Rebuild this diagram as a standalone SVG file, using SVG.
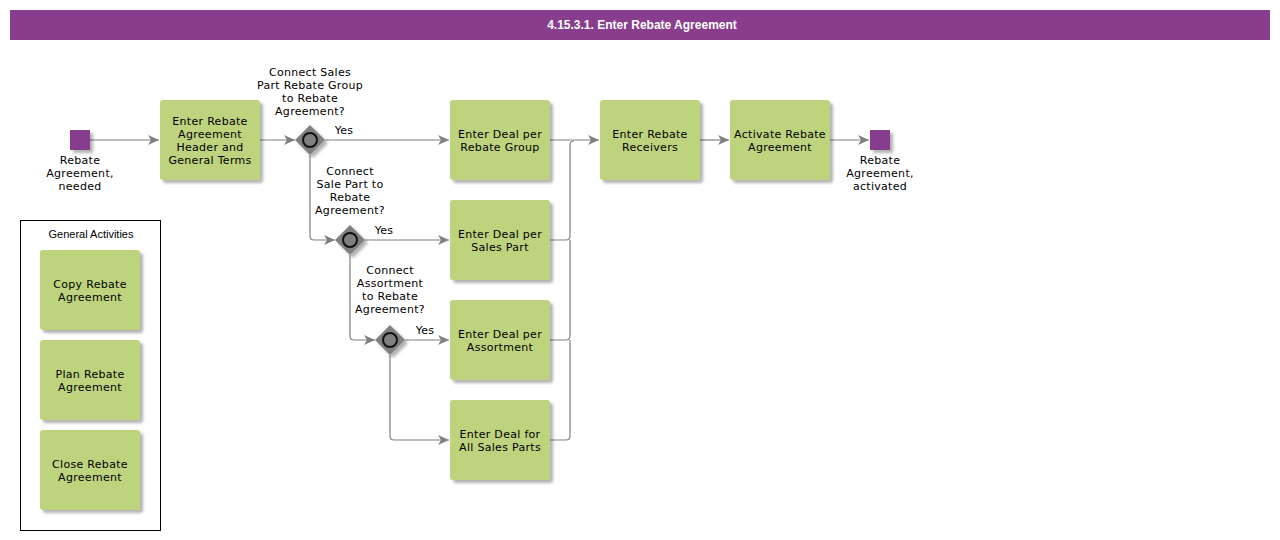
<svg xmlns="http://www.w3.org/2000/svg" width="1280" height="540" viewBox="0 0 1280 540">
<style>
.box{fill:#bed37d;}
.t{font-family:"DejaVu Sans",Verdana,sans-serif;font-size:11px;fill:#000;text-anchor:middle;letter-spacing:0.3px;}
.c{fill:none;stroke:#808080;stroke-width:1.2;}
.ev{fill:#883e8c;}
.gw{fill:#808080;}
.gc{fill:#808080;stroke:#111;stroke-width:2;}
</style>
<defs>
<filter id="sh" x="-20%" y="-20%" width="150%" height="150%">
<feDropShadow dx="3" dy="3" stdDeviation="1.5" flood-color="#000" flood-opacity="0.3"/>
</filter>
<marker id="ar" markerWidth="12" markerHeight="10" refX="11" refY="5" orient="auto" markerUnits="userSpaceOnUse">
<path d="M0,0 L11,5 L0,10 L3,5 Z" fill="#808080"/>
</marker>
</defs>
<rect x="10" y="10" width="1260" height="30" fill="#883e8c"/>
<text x="642" y="29" font-family="Liberation Sans,Arial,sans-serif" font-size="12" font-weight="bold" fill="#fff" text-anchor="middle">4.15.3.1. Enter Rebate Agreement</text>

<g id="connectors">
<path class="c" d="M90,140 H159" marker-end="url(#ar)"/>
<path class="c" d="M260,140 H295" marker-end="url(#ar)"/>
<path class="c" d="M325,140 H449" marker-end="url(#ar)"/>
<path class="c" d="M310,155 V236 Q310,240 314,240 H335" marker-end="url(#ar)"/>
<path class="c" d="M365,240 H449" marker-end="url(#ar)"/>
<path class="c" d="M350,255 V336 Q350,340 354,340 H375" marker-end="url(#ar)"/>
<path class="c" d="M405,340 H449" marker-end="url(#ar)"/>
<path class="c" d="M390,355 V436 Q390,440 394,440 H449" marker-end="url(#ar)"/>
<path class="c" d="M550,140 H599" marker-end="url(#ar)"/>
<path class="c" d="M550,240 H566 Q570,240 570,236 V145 Q570,141 574,141"/>
<path class="c" d="M550,340 H566 Q570,340 570,336 V240"/>
<path class="c" d="M550,440 H566 Q570,440 570,436 V340"/>
<path class="c" d="M700,140 H729" marker-end="url(#ar)"/>
<path class="c" d="M830,140 H869" marker-end="url(#ar)"/>
<text class="t" x="344" y="134">Yes</text>
<text class="t" x="384" y="234">Yes</text>
<text class="t" x="425" y="334">Yes</text>
</g>

<g id="start">
<rect class="ev" x="70" y="130" width="20" height="20" filter="url(#sh)"/>
<text class="t" x="80" y="164">Rebate</text>
<text class="t" x="80" y="177">Agreement,</text>
<text class="t" x="80" y="190">needed</text>
</g>
<g id="end">
<rect class="ev" x="870" y="130" width="20" height="20" filter="url(#sh)"/>
<text class="t" x="880" y="164">Rebate</text>
<text class="t" x="880" y="177">Agreement,</text>
<text class="t" x="880" y="190">activated</text>
</g>

<g id="header">
<rect class="box" x="160" y="100" width="100" height="80" rx="3" filter="url(#sh)"/>
<text class="t" x="210" y="125">Enter Rebate</text>
<text class="t" x="210" y="138">Agreement</text>
<text class="t" x="210" y="151">Header and</text>
<text class="t" x="210" y="164">General Terms</text>
</g>

<g id="gw1">
<path class="gw" d="M310,125 L325,140 L310,155 L295,140 Z" filter="url(#sh)"/>
<circle class="gc" cx="310" cy="140" r="7"/>
<text class="t" x="310" y="76">Connect Sales</text>
<text class="t" x="310" y="89">Part Rebate Group</text>
<text class="t" x="310" y="102">to Rebate</text>
<text class="t" x="310" y="115">Agreement?</text>
</g>
<g id="gw2">
<path class="gw" d="M350,225 L365,240 L350,255 L335,240 Z" filter="url(#sh)"/>
<circle class="gc" cx="350" cy="240" r="7"/>
<text class="t" x="350" y="175">Connect</text>
<text class="t" x="350" y="188">Sale Part to</text>
<text class="t" x="350" y="201">Rebate</text>
<text class="t" x="350" y="214">Agreement?</text>
</g>
<g id="gw3">
<path class="gw" d="M390,325 L405,340 L390,355 L375,340 Z" filter="url(#sh)"/>
<circle class="gc" cx="390" cy="340" r="7"/>
<text class="t" x="390" y="274">Connect</text>
<text class="t" x="390" y="287">Assortment</text>
<text class="t" x="390" y="300">to Rebate</text>
<text class="t" x="390" y="313">Agreement?</text>
</g>

<g id="dealGroup">
<rect class="box" x="450" y="100" width="100" height="80" rx="3" filter="url(#sh)"/>
<text class="t" x="500" y="138">Enter Deal per</text>
<text class="t" x="500" y="151">Rebate Group</text>
</g>
<g id="dealPart">
<rect class="box" x="450" y="200" width="100" height="80" rx="3" filter="url(#sh)"/>
<text class="t" x="500" y="238">Enter Deal per</text>
<text class="t" x="500" y="251">Sales Part</text>
</g>
<g id="dealAssort">
<rect class="box" x="450" y="300" width="100" height="80" rx="3" filter="url(#sh)"/>
<text class="t" x="500" y="338">Enter Deal per</text>
<text class="t" x="500" y="351">Assortment</text>
</g>
<g id="dealAll">
<rect class="box" x="450" y="400" width="100" height="80" rx="3" filter="url(#sh)"/>
<text class="t" x="500" y="438">Enter Deal for</text>
<text class="t" x="500" y="451">All Sales Parts</text>
</g>
<g id="receivers">
<rect class="box" x="600" y="100" width="100" height="80" rx="3" filter="url(#sh)"/>
<text class="t" x="650" y="138">Enter Rebate</text>
<text class="t" x="650" y="151">Receivers</text>
</g>
<g id="activate">
<rect class="box" x="730" y="100" width="100" height="80" rx="3" filter="url(#sh)"/>
<text class="t" x="780" y="138">Activate Rebate</text>
<text class="t" x="780" y="151">Agreement</text>
</g>

<g id="general">
<rect x="20.5" y="220.5" width="140" height="310" fill="#fff" stroke="#000" stroke-width="1"/>
<text x="91" y="238" font-family="Liberation Sans,Arial,sans-serif" font-size="11" text-anchor="middle">General Activities</text>
</g>
<g id="copy">
<rect class="box" x="40" y="250" width="100" height="80" rx="3" filter="url(#sh)"/>
<text class="t" x="90" y="288">Copy Rebate</text>
<text class="t" x="90" y="301">Agreement</text>
</g>
<g id="plan">
<rect class="box" x="40" y="340" width="100" height="80" rx="3" filter="url(#sh)"/>
<text class="t" x="90" y="378">Plan Rebate</text>
<text class="t" x="90" y="391">Agreement</text>
</g>
<g id="close">
<rect class="box" x="40" y="430" width="100" height="80" rx="3" filter="url(#sh)"/>
<text class="t" x="90" y="468">Close Rebate</text>
<text class="t" x="90" y="481">Agreement</text>
</g>
</svg>
